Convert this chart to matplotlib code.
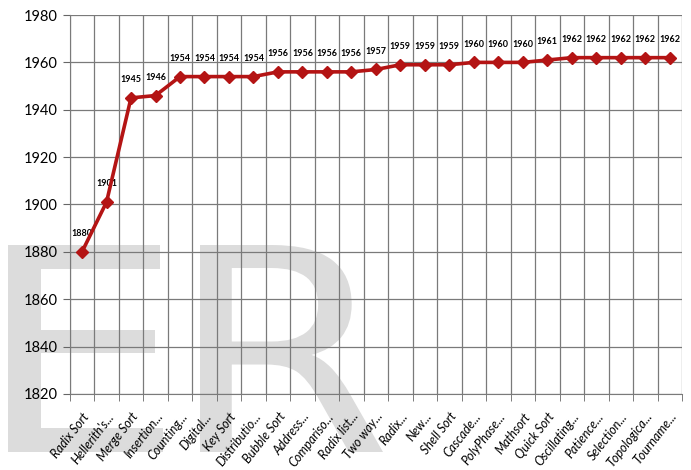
import matplotlib.pyplot as plt
import numpy as np
from matplotlib.textpath import TextPath
from matplotlib.patches import PathPatch
from matplotlib.font_manager import FontProperties
from matplotlib.transforms import Affine2D, IdentityTransform

algorithms = ['Radix Sort', "Hellerith's...", 'Merge Sort', 'Insertion...', 'Counting...',
              'Digital...', 'Key Sort', 'Distributio...', 'Bubble Sort', 'Address...',
              'Compariso...', 'Radix list...', 'Two way...', 'Radix...', 'New...',
              'Shell Sort', 'Cascade...', 'PolyPhase...', 'Mathsort', 'Quick Sort',
              'Oscillating...', 'Patience...', 'Selection...', 'Topologica...', 'Tourname...']
years = [1880, 1901, 1945, 1946, 1954, 1954, 1954, 1954, 1956, 1956, 1956, 1956, 1957,
         1959, 1959, 1959, 1960, 1960, 1960, 1961, 1962, 1962, 1962, 1962, 1962]
yticks = [1820, 1840, 1860, 1880, 1900, 1920, 1940, 1960, 1980]

red = '#b41414'

fig = plt.figure(figsize=(6.91, 4.70), dpi=100)


def watermark(letter, x0, y0, w, h):
    # stretch a glyph into a box given in figure pixels (from bottom-left)
    p = TextPath((0, 0), letter, size=100, prop=FontProperties(family='DejaVu Sans'))
    ext = p.get_extents()
    tr = (Affine2D().translate(-ext.x0, -ext.y0)
          .scale(w / ext.width, h / ext.height).translate(x0, y0))
    patch = PathPatch(tr.transform_path(p), facecolor='#dcdcdc', edgecolor='none',
                      transform=IdentityTransform(), zorder=-1)
    fig.add_artist(patch)


watermark('E', 8, 18, 155, 207)
watermark('R', 200, 18, 183, 207)

ax = fig.add_axes([0.101, 0.162, 0.886, 0.806])
ax.patch.set_alpha(0)

x = np.arange(len(algorithms))
ax.plot(x, years, color=red, lw=2.6, marker='D', ms=6, zorder=5)

for xi, yv in zip(x, years):
    ax.annotate(str(yv), (xi, yv), xytext=(0, 10), textcoords='offset points',
                ha='center', va='bottom', fontsize=6.5, fontweight='bold', family='Lato')

ax.set_xlim(-0.5, len(algorithms) - 0.5)
ax.set_ylim(1820, 1980)
ax.set_yticks(yticks)
ax.set_yticklabels([str(t) for t in yticks], fontsize=10.5, family='Lato')

ax.set_xticks(x)
ax.set_xticklabels(algorithms, rotation=52, ha='right', rotation_mode='anchor',
                   fontsize=9, style='italic', family='Lato')
ax.set_xticks(np.arange(len(algorithms) + 1) - 0.5, minor=True)
ax.tick_params(axis='x', which='major', length=0, pad=12)
ax.tick_params(axis='x', which='minor', length=5, color='#666666', direction='out')
ax.tick_params(axis='y', length=5, color='#666666', direction='out', pad=4)

ax.grid(True, which='minor', axis='x', color='#7a7a7a', lw=0.9)
ax.grid(True, which='major', axis='y', color='#7a7a7a', lw=0.9)
for s in ['top', 'right']:
    ax.spines[s].set_visible(False)
for s in ['left', 'bottom']:
    ax.spines[s].set_color('#7a7a7a')
ax.set_axisbelow(True)

fig.savefig('out.png', dpi=100)
